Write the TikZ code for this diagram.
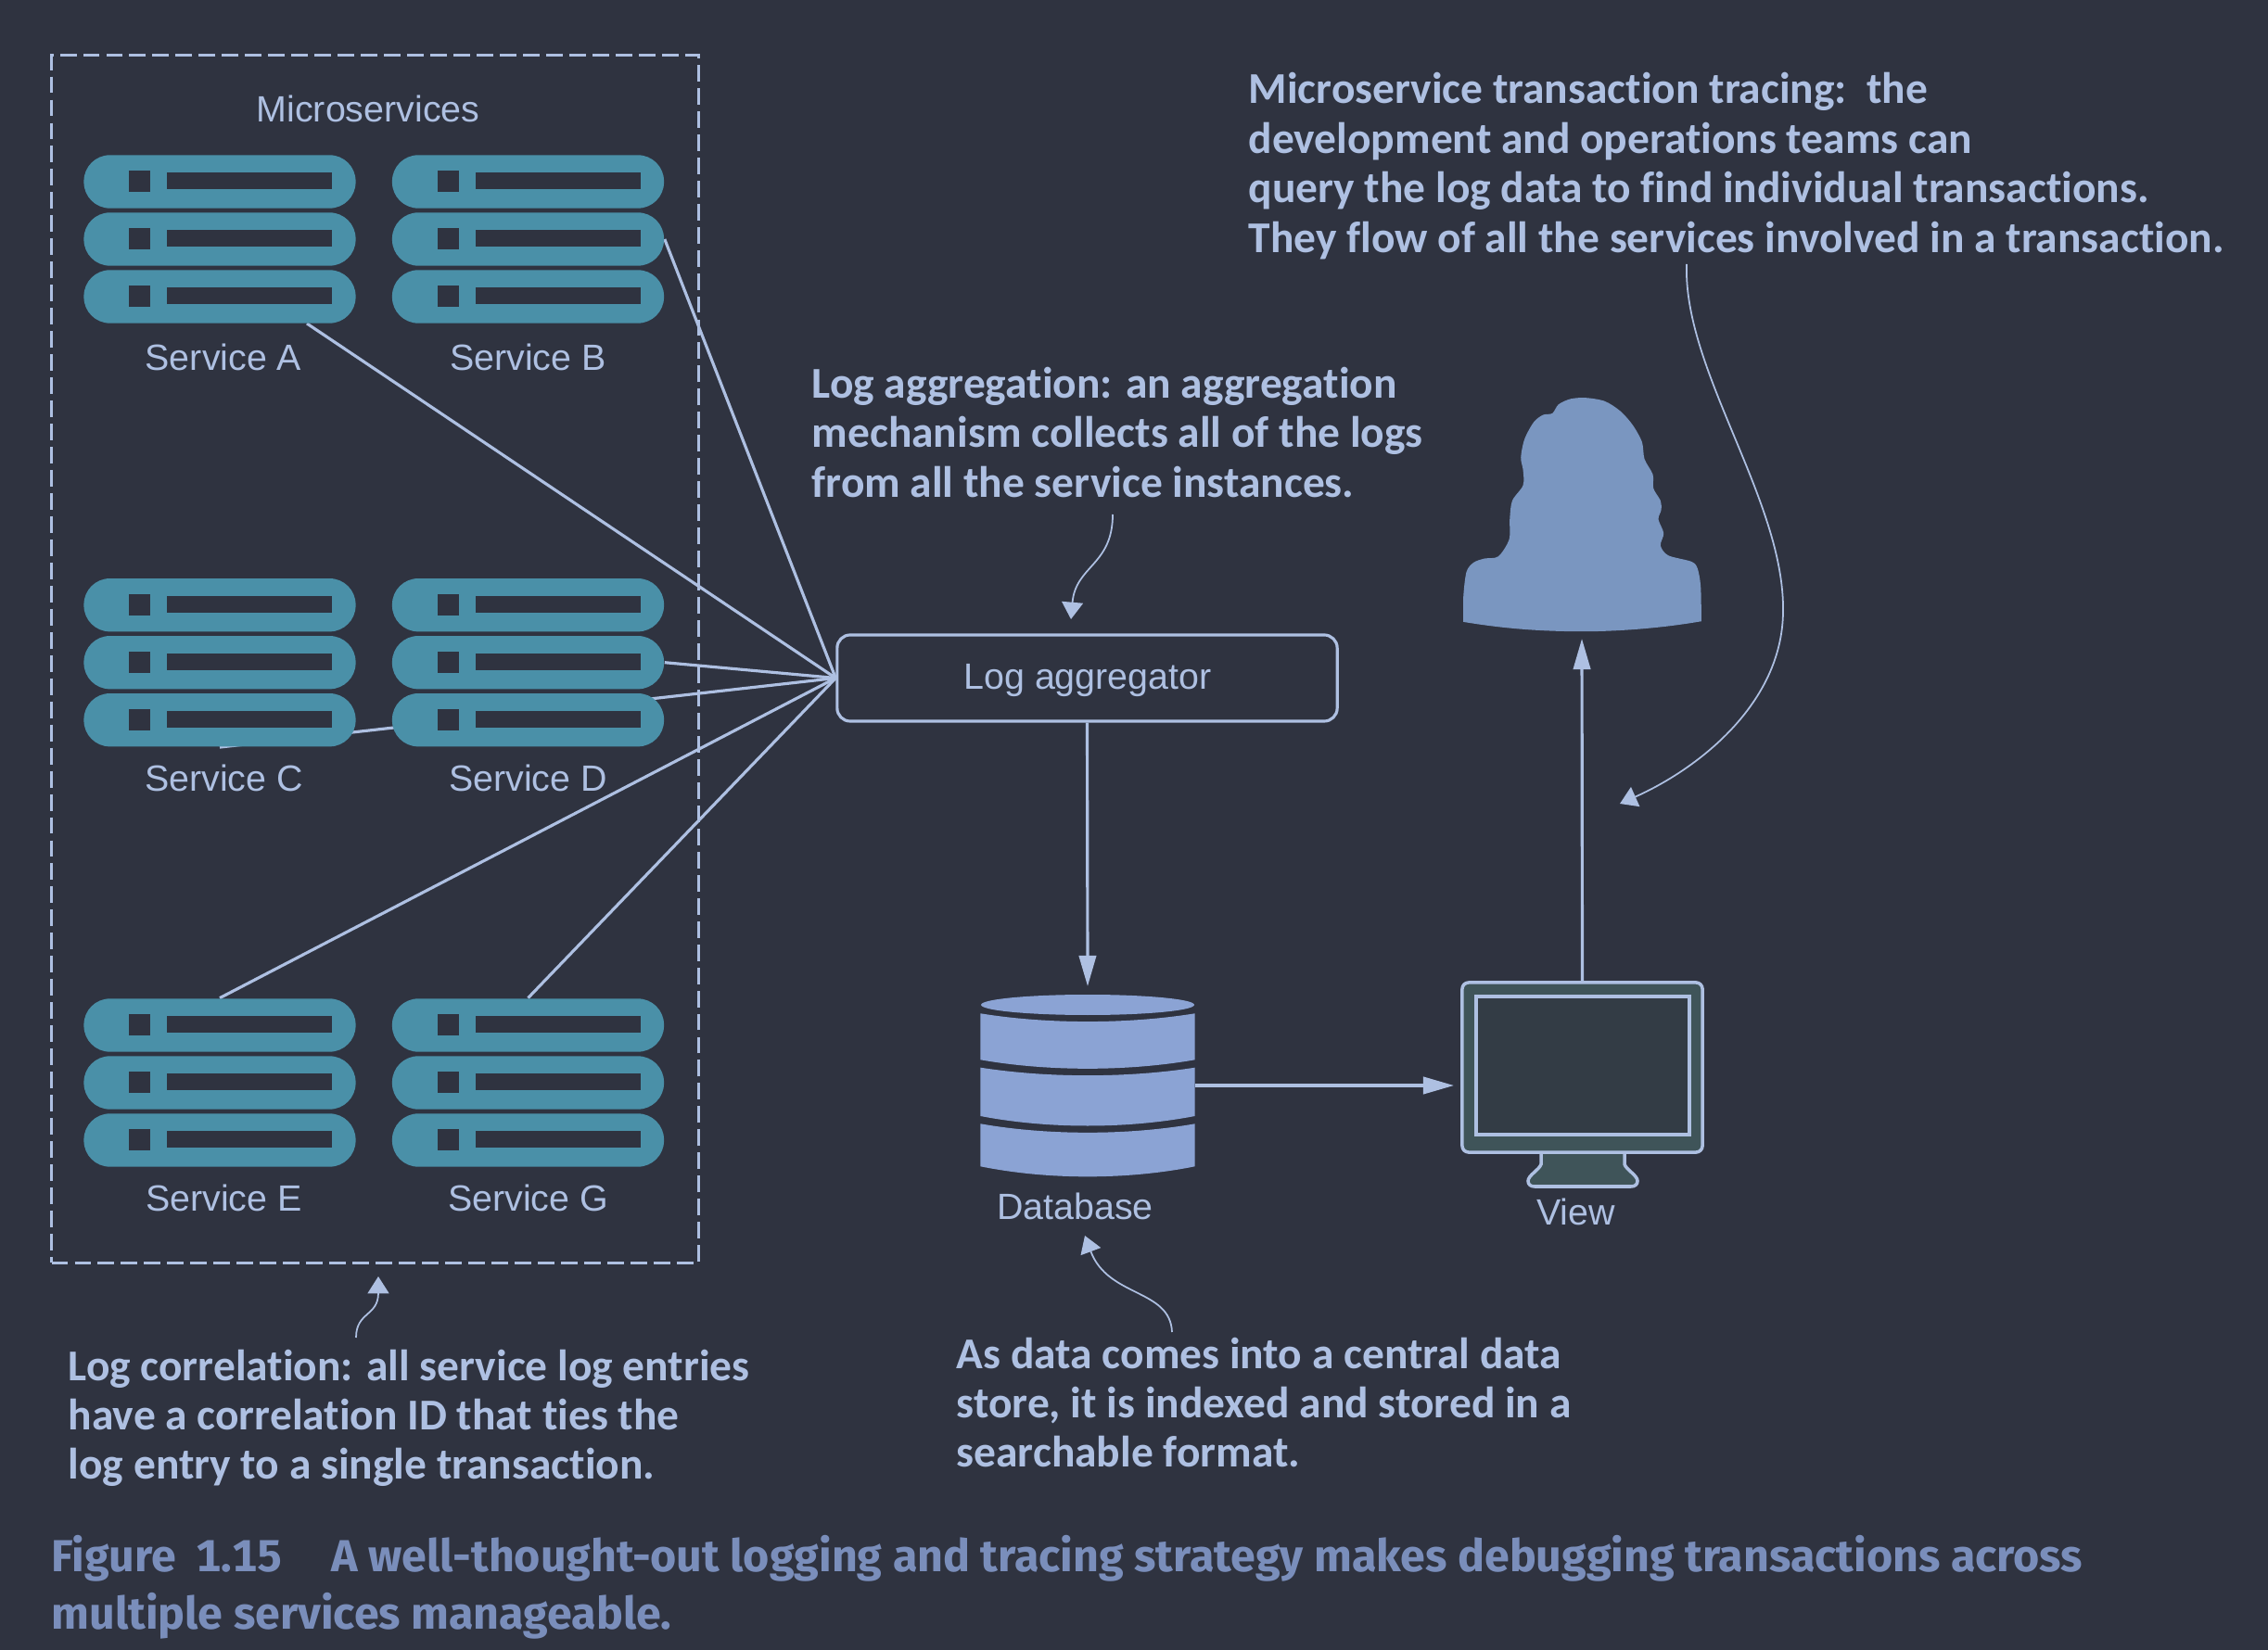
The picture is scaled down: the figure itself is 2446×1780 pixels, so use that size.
\documentclass[tikz,border=0pt]{standalone}
\usepackage{fontspec}
\setmainfont{Liberation Sans}
\newfontfamily\notefont[Ligatures=NoCommon]{Carlito}
\newfontfamily\capfont[Numbers=Tabular]{Fira Sans}
\usepackage{tikz}
\usetikzlibrary{arrows.meta,backgrounds}

\definecolor{pagebg}{HTML}{2F3340}
\definecolor{inkblue}{HTML}{AEC0E2}
\definecolor{rackteal}{HTML}{4A90A8}
\definecolor{dbblue}{HTML}{8BA3D4}
\definecolor{personblue}{HTML}{7A96C0}
\definecolor{monbody}{HTML}{3F5459}
\definecolor{monpanel}{HTML}{333C45}
\definecolor{capblue}{HTML}{7A8EBB}

\tikzset{
    rack/.style={fill=rackteal,rounded corners=8pt,inner sep=0pt,
                 minimum width=2.93cm,minimum height=.573cm,
                 path picture={
                    \fill[pagebg,sharp corners] ([shift={(-98,-12)}]path picture bounding box.center) rectangle ([shift={(-75,11)}]path picture bounding box.center);
                    \fill[pagebg,sharp corners] ([shift={(-57,-10)}]path picture bounding box.center) rectangle ([shift={(121,8)}]path picture bounding box.center);
                 }},
    pics/stack/.style={code={
        \node[rack] (-top) at (0,-62) {};
        \node[rack] (-mid) at (0,0) {};
        \node[rack] (-bot) at (0,62) {};
    }},
    note/.style={font=\notefont\bfseries\fontsize{13.5pt}{15.2pt}\selectfont,text=inkblue,
                 align=left,anchor=north west,inner sep=0pt},
    label/.style={font=\fontsize{11.2pt}{13pt}\selectfont,text=inkblue,inner sep=0pt},
    screen/.style={fill=monbody,draw=inkblue,line width=1pt},
    noteline/.style={draw=inkblue,line width=.5pt,-{Triangle[length=5.2pt,width=6.5pt]}},
    flow/.style={draw=inkblue,line width=.9pt,-{Triangle[length=9.4pt,width=5.2pt]}},
    feed/.style={draw=inkblue,line width=.9pt}
}

\begin{document}
\begin{tikzpicture}[x=.01cm,y=-.01cm]
    \useasboundingbox (0,0) rectangle (2446,1780);

    \node[draw=inkblue,line width=.8pt,dash pattern=on 5.1pt off 2pt,inner sep=0pt,
          minimum width=6.975cm,minimum height=13.02cm] (box) at (404.5,711) {};
    \node[label] (micro) at (397,117) {Microservices};

    \pic (A) at (237,258) {stack};
    \pic (B) at (569.5,258) {stack};
    \pic (C) at (237,714.7) {stack};
    \pic (D) at (569.5,714.7) {stack};
    \pic (E) at (237,1168) {stack};
    \pic (G) at (569.5,1168) {stack};

    \begin{scope}[every node/.style={label}]
        \node (Alabel) at (241,385) {Service A};
        \node (Blabel) at (569.5,385) {Service B};
        \node (Clabel) at (241.5,839) {Service C};
        \node (Dlabel) at (569.5,839) {Service D};
        \node (Elabel) at (241.5,1292) {Service E};
        \node (Glabel) at (569.5,1292) {Service G};
    \end{scope}

    \node[draw=inkblue,line width=.9pt,rounded corners=4pt,inner sep=0pt,
          minimum width=5.39cm,minimum height=.93cm] (log) at (1172.5,731.5) {};
    \node[label] (loglabel) at (1173,734) {Log aggregator};

    \node[inner sep=0pt,minimum width=2.31cm,minimum height=1.96cm] (db) at (1173,1171) {};
    \begin{scope}[dbblue]
        \fill (1173,1084) ellipse [x radius=115,y radius=11];
        \fill (1057.4,1093.3) .. controls (1130,1105) and (1216,1105) .. (1288.7,1093.3) -- (1288.7,1143.3) .. controls (1216,1156) and (1130,1156) .. (1057.4,1143.3) -- cycle;
        \fill (1057.4,1151.7) .. controls (1130,1163) and (1216,1163) .. (1288.7,1151.7) -- (1288.7,1204) .. controls (1216,1218) and (1130,1218) .. (1057.4,1204) -- cycle;
        \fill (1057.4,1212.3) .. controls (1130,1225) and (1216,1225) .. (1288.7,1212.3) -- (1288.7,1258.3) .. controls (1216,1273) and (1130,1273) .. (1057.4,1258.3) -- cycle;
    \end{scope}
    \node[label] (dblabel) at (1159.5,1301) {Database};

    \draw[screen] (1662,1240) -- (1662,1256) .. controls (1660,1262) and (1648,1268) .. (1648,1274) .. controls (1648,1278) and (1651,1280) .. (1655,1280) -- (1759,1280) .. controls (1763,1280) and (1766,1278) .. (1766,1274) .. controls (1766,1268) and (1754,1262) .. (1752,1256) -- (1752,1240);
    \node[screen,rounded corners=2pt,inner sep=0pt,minimum width=2.59cm,minimum height=1.83cm] (view) at (1706.5,1151.5) {};
    \node[fill=monpanel,draw=inkblue,line width=1pt,inner sep=0pt,minimum width=2.3cm,minimum height=1.49cm] (panel) at (1707,1149.5) {};
    \node[label] (viewlabel) at (1699.5,1307) {View};

    \node[inner sep=0pt,minimum width=2.56cm,minimum height=2.52cm] (person) at (1706,555) {};
    \begin{scope}[shift={(15.2cm,-4cm)},x=.01cm/3,y=-.01cm/3]
        \fill[personblue] plot[smooth,tension=.5] coordinates {(172,812) (172,730) (182,650) (205,620) (240,607) (285,600) (320,545) (322,480) (330,420) (365,370) (365,320) (358,280) (370,220) (400,165) (430,142) (460,137) (480,108) (520,90) (570,87) (630,98) (680,130) (720,175) (750,230) (758,285) (785,335) (787,380) (810,420) (812,450) (803,480) (820,525) (810,565) (835,597) (910,617) (930,640) (940,700) (942,810)}
            .. controls (800,835) and (650,843) .. (560,843) .. controls (400,843) and (280,830) .. (172,812) -- cycle;
    \end{scope}

    \begin{scope}[on background layer]
        \fill[pagebg] (0,0) rectangle (2446,1780);
        \coordinate (Aout) at (331,349);
        \path [feed] (Aout) edge (log.west);
        \path [feed] (B-mid.east) edge (log.west);
        \path [feed] (C-bot.south) edge (log.west);
        \path [feed] (D-mid.east) edge (log.west);
        \path [feed] (E-top.north) edge (log.west);
        \path [feed] (G-top.north) edge (log.west);
    \end{scope}

    \coordinate (dbtop) at (1173,1064);
    \coordinate (viewin) at (1568,1171);
    \coordinate (personin) at (1706,689);
    \path [flow] (log.south) -- (dbtop);
    \path [flow] (db.east) -- (viewin);
    \path [flow] (view.north) -- (personin);

    \node[note] (tracenote) at (1346,78) {Microservice transaction tracing:\ \ the\\development and operations teams can\\query the log data to find individual transactions.\\They flow of all the services involved in a transaction.};
    \node[note] (lognote) at (875,395.5) {Log aggregation: an aggregation\\mechanism collects all of the logs\\from all the service instances.};
    \node[note] (corrnote) at (73,1455) {Log correlation: all service log entries\\have a correlation ID that ties the\\log entry to a single transaction.};
    \node[note] (dbnote) at (1031,1442) {As data comes into a central data\\store, it is indexed and stored in a\\searchable format.};

    \coordinate (traceout) at (1819,285);
    \coordinate (tracein) at (1747,867);
    \coordinate (logout) at (1200,555);
    \coordinate (login) at (1155,668);
    \coordinate (corrout) at (384,1443);
    \coordinate (corrin) at (408,1377);
    \coordinate (dbout) at (1264,1437);
    \coordinate (dbin) at (1170,1333);

    \draw [noteline] (traceout) .. controls (1815,400) and (1925,540) .. (1923,660) .. controls (1922,760) and (1830,830) .. (tracein);
    \draw [noteline] (logout) .. controls (1200,610) and (1160,610) .. (login);
    \draw [noteline] (corrout) .. controls (384,1415) and (408,1420) .. (corrin);
    \draw [noteline] (dbout) .. controls (1262,1390) and (1195,1400) .. (dbin);

    \node[font=\capfont\bfseries\fontsize{13.75pt}{17.45pt}\selectfont,text=capblue,align=left,anchor=north west,inner sep=0pt] (caption) at (55,1656)
        {Figure\hspace{.45em}1.15\hspace{1.1em}A well-thought-out logging and tracing strategy makes debugging transactions across\\multiple services manageable.};
\end{tikzpicture}
\end{document}
